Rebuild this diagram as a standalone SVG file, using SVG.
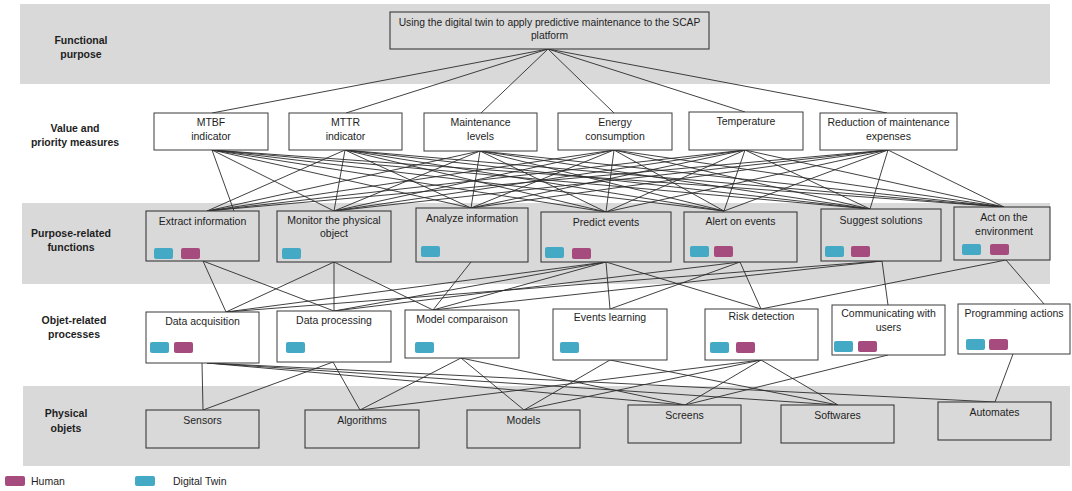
<svg xmlns="http://www.w3.org/2000/svg" width="1072" height="491" viewBox="0 0 1072 491">
<style>
.band{fill:#d9d9d9}
.box{fill:#ffffff;stroke:#3a3a3a;stroke-width:1}
.gbox{fill:#d9d9d9;stroke:#3a3a3a;stroke-width:1.1}
.t{font-family:"Liberation Sans",Arial,sans-serif;font-size:10.5px;fill:#1e1e1e;text-anchor:middle}
.lbl{font-family:"Liberation Sans",Arial,sans-serif;font-size:10.5px;font-weight:bold;fill:#1e1e1e;text-anchor:middle}
.leg{font-family:"Liberation Sans",Arial,sans-serif;font-size:10.5px;fill:#1e1e1e}
.dt{fill:#44a9c4}
.hu{fill:#a64b7d}
#connectors line{stroke:#2b2b2b;stroke-width:0.9}
</style>
<defs>
<rect id="sw" width="19" height="11" rx="2"/>
</defs>

<!-- bands -->
<rect class="band" x="20" y="4" width="1030" height="80"/>
<rect class="band" x="22" y="203" width="1028" height="81"/>
<rect class="band" x="23" y="386" width="1047" height="80"/>

<!-- level labels -->
<g id="levels">
<text class="lbl" x="81" y="44">Functional</text>
<text class="lbl" x="81" y="58">purpose</text>
<text class="lbl" x="75" y="132">Value and</text>
<text class="lbl" x="75" y="146">priority measures</text>
<text class="lbl" x="71" y="237">Purpose-related</text>
<text class="lbl" x="71" y="251">functions</text>
<text class="lbl" x="74" y="324">Objet-related</text>
<text class="lbl" x="74" y="338">processes</text>
<text class="lbl" x="66" y="417">Physical</text>
<text class="lbl" x="66" y="432">objets</text>
</g>

<g id="connectors">
<!-- top to values -->
<line x1="548" y1="49" x2="212" y2="113"/>
<line x1="548" y1="49" x2="346" y2="113"/>
<line x1="548" y1="49" x2="481" y2="113"/>
<line x1="548" y1="49" x2="614" y2="113"/>
<line x1="548" y1="49" x2="745" y2="112"/>
<line x1="548" y1="49" x2="887" y2="113"/>
<!-- values to functions -->
<line x1="212" y1="150" x2="234" y2="211"/>
<line x1="212" y1="150" x2="334" y2="211"/>
<line x1="212" y1="150" x2="471" y2="208"/>
<line x1="212" y1="150" x2="606" y2="212"/>
<line x1="212" y1="150" x2="724" y2="211"/>
<line x1="212" y1="150" x2="870" y2="209"/>
<line x1="212" y1="150" x2="1004" y2="207"/>
<line x1="345" y1="150" x2="207" y2="211"/>
<line x1="345" y1="150" x2="334" y2="211"/>
<line x1="345" y1="150" x2="471" y2="208"/>
<line x1="345" y1="150" x2="606" y2="212"/>
<line x1="345" y1="150" x2="724" y2="211"/>
<line x1="345" y1="150" x2="870" y2="209"/>
<line x1="345" y1="150" x2="1004" y2="207"/>
<line x1="480" y1="151" x2="207" y2="211"/>
<line x1="480" y1="151" x2="334" y2="211"/>
<line x1="480" y1="151" x2="471" y2="208"/>
<line x1="480" y1="151" x2="606" y2="212"/>
<line x1="480" y1="151" x2="724" y2="211"/>
<line x1="480" y1="151" x2="870" y2="209"/>
<line x1="480" y1="151" x2="1004" y2="207"/>
<line x1="614" y1="150" x2="207" y2="211"/>
<line x1="614" y1="150" x2="334" y2="211"/>
<line x1="614" y1="150" x2="471" y2="208"/>
<line x1="614" y1="150" x2="606" y2="212"/>
<line x1="614" y1="150" x2="724" y2="211"/>
<line x1="614" y1="150" x2="870" y2="209"/>
<line x1="614" y1="150" x2="1004" y2="207"/>
<line x1="745" y1="150" x2="207" y2="211"/>
<line x1="745" y1="150" x2="334" y2="211"/>
<line x1="745" y1="150" x2="471" y2="208"/>
<line x1="745" y1="150" x2="606" y2="212"/>
<line x1="745" y1="150" x2="724" y2="211"/>
<line x1="745" y1="150" x2="870" y2="209"/>
<line x1="745" y1="150" x2="1004" y2="207"/>
<line x1="888" y1="150" x2="207" y2="211"/>
<line x1="888" y1="150" x2="334" y2="211"/>
<line x1="888" y1="150" x2="471" y2="208"/>
<line x1="888" y1="150" x2="606" y2="212"/>
<line x1="888" y1="150" x2="724" y2="211"/>
<line x1="888" y1="150" x2="870" y2="209"/>
<line x1="888" y1="150" x2="1004" y2="207"/>
<!-- functions to processes -->
<line x1="203" y1="261" x2="226" y2="312"/>
<line x1="203" y1="261" x2="334" y2="311"/>
<line x1="334" y1="262" x2="226" y2="312"/>
<line x1="334" y1="262" x2="334" y2="311"/>
<line x1="334" y1="262" x2="433" y2="310"/>
<line x1="471" y1="262" x2="433" y2="310"/>
<line x1="606" y1="262" x2="226" y2="312"/>
<line x1="606" y1="262" x2="334" y2="311"/>
<line x1="606" y1="262" x2="433" y2="310"/>
<line x1="606" y1="262" x2="610" y2="309"/>
<line x1="606" y1="262" x2="761" y2="309"/>
<line x1="740" y1="262" x2="334" y2="311"/>
<line x1="740" y1="262" x2="610" y2="309"/>
<line x1="740" y1="262" x2="761" y2="309"/>
<line x1="882" y1="261" x2="226" y2="312"/>
<line x1="882" y1="261" x2="433" y2="310"/>
<line x1="882" y1="261" x2="888" y2="305"/>
<line x1="1006" y1="260" x2="761" y2="309"/>
<line x1="1006" y1="260" x2="1044" y2="304"/>
<!-- processes to physical objects -->
<line x1="202" y1="363" x2="203" y2="410"/>
<line x1="207" y1="363" x2="685" y2="405"/>
<line x1="207" y1="363" x2="838" y2="405"/>
<line x1="207" y1="363" x2="995" y2="402"/>
<line x1="333" y1="362" x2="203" y2="410"/>
<line x1="333" y1="362" x2="360" y2="410"/>
<line x1="461" y1="358" x2="360" y2="410"/>
<line x1="461" y1="358" x2="524" y2="410"/>
<line x1="461" y1="358" x2="685" y2="405"/>
<line x1="610" y1="360" x2="524" y2="410"/>
<line x1="610" y1="360" x2="838" y2="405"/>
<line x1="761" y1="360" x2="360" y2="410"/>
<line x1="761" y1="360" x2="524" y2="410"/>
<line x1="761" y1="360" x2="685" y2="405"/>
<line x1="761" y1="360" x2="838" y2="405"/>
<line x1="888" y1="355" x2="685" y2="405"/>
<line x1="1013" y1="354" x2="995" y2="402"/>
</g>

<!-- functional purpose -->
<g id="n-purpose">
<rect class="gbox" x="390" y="12" width="319" height="37"/>
<text class="t" x="549.5" y="26" style="font-size:10.3px">Using the digital twin to apply predictive maintenance to the SCAP</text>
<text class="t" x="549.5" y="39" style="font-size:10.3px">platform</text>
</g>

<!-- value and priority measures -->
<g id="n-mtbf"><rect class="box" x="154" y="113" width="114" height="37"/><text class="t" x="211" y="126">MTBF</text><text class="t" x="211" y="140">indicator</text></g>
<g id="n-mttr"><rect class="box" x="289" y="113" width="113" height="37"/><text class="t" x="345.5" y="126">MTTR</text><text class="t" x="345.5" y="140">indicator</text></g>
<g id="n-maint"><rect class="box" x="424" y="113" width="113" height="38"/><text class="t" x="480.5" y="126">Maintenance</text><text class="t" x="480.5" y="140">levels</text></g>
<g id="n-energy"><rect class="box" x="558" y="113" width="114" height="37"/><text class="t" x="615" y="126">Energy</text><text class="t" x="615" y="140">consumption</text></g>
<g id="n-temp"><rect class="box" x="689" y="112" width="114" height="38"/><text class="t" x="746" y="125">Temperature</text></g>
<g id="n-reduction"><rect class="box" x="820" y="113" width="137" height="37"/><text class="t" x="888.5" y="126">Reduction of maintenance</text><text class="t" x="888.5" y="140">expenses</text></g>

<!-- purpose-related functions -->
<g id="n-extract"><rect class="gbox" x="146" y="211" width="113" height="50"/><text class="t" x="202.5" y="225">Extract information</text><use href="#sw" class="dt" x="154" y="248"/><use href="#sw" class="hu" x="181" y="248"/></g>
<g id="n-monitor"><rect class="gbox" x="277" y="211" width="114" height="51"/><text class="t" x="334" y="224">Monitor the physical</text><text class="t" x="334" y="237">object</text><use href="#sw" class="dt" x="282" y="248"/></g>
<g id="n-analyze"><rect class="gbox" x="416" y="208" width="112" height="54"/><text class="t" x="472" y="222">Analyze information</text><use href="#sw" class="dt" x="421" y="246"/></g>
<g id="n-predict"><rect class="gbox" x="541" y="212" width="130" height="50"/><text class="t" x="606" y="226">Predict events</text><use href="#sw" class="dt" x="545" y="247"/><use href="#sw" class="hu" x="572" y="248"/></g>
<g id="n-alert"><rect class="gbox" x="684" y="212" width="113" height="50"/><text class="t" x="740.5" y="225">Alert on events</text><use href="#sw" class="dt" x="690" y="246"/><use href="#sw" class="hu" x="714" y="246"/></g>
<g id="n-suggest"><rect class="gbox" x="821" y="209" width="120" height="52"/><text class="t" x="881" y="224">Suggest  solutions</text><use href="#sw" class="dt" x="825" y="246"/><use href="#sw" class="hu" x="851" y="246"/></g>
<g id="n-act"><rect class="gbox" x="954" y="207" width="96" height="53"/><text class="t" x="1004" y="221">Act on the</text><text class="t" x="1004" y="235">environment</text><use href="#sw" class="dt" x="962" y="244"/><use href="#sw" class="hu" x="990" y="244"/></g>

<!-- object-related processes -->
<g id="n-acq"><rect class="box" x="146" y="312" width="113" height="51"/><text class="t" x="202.5" y="325">Data acquisition</text><use href="#sw" class="dt" x="150" y="342"/><use href="#sw" class="hu" x="174" y="342"/></g>
<g id="n-proc"><rect class="box" x="277" y="311" width="114" height="51"/><text class="t" x="334" y="324">Data processing</text><use href="#sw" class="dt" x="286" y="342"/></g>
<g id="n-model"><rect class="box" x="405" y="310" width="114" height="48"/><text class="t" x="462" y="323">Model comparaison</text><use href="#sw" class="dt" x="415" y="342"/></g>
<g id="n-events"><rect class="box" x="553" y="309" width="114" height="51"/><text class="t" x="610" y="321">Events learning</text><use href="#sw" class="dt" x="560" y="342"/></g>
<g id="n-risk"><rect class="box" x="705" y="309" width="113" height="51"/><text class="t" x="761.5" y="320">Risk detection</text><use href="#sw" class="dt" x="710" y="342"/><use href="#sw" class="hu" x="736" y="342"/></g>
<g id="n-comm"><rect class="box" x="832" y="305" width="113" height="50"/><text class="t" x="888.5" y="317">Communicating with</text><text class="t" x="888.5" y="331">users</text><use href="#sw" class="dt" x="834" y="341"/><use href="#sw" class="hu" x="858" y="341"/></g>
<g id="n-prog"><rect class="box" x="958" y="304" width="112" height="50"/><text class="t" x="1014" y="317">Programming actions</text><use href="#sw" class="dt" x="966" y="339"/><use href="#sw" class="hu" x="989" y="339"/></g>

<!-- physical objects -->
<g id="n-sensors"><rect class="gbox" x="146" y="410" width="113" height="38"/><text class="t" x="202.5" y="424">Sensors</text></g>
<g id="n-algo"><rect class="gbox" x="305" y="410" width="114" height="38"/><text class="t" x="362" y="424">Algorithms</text></g>
<g id="n-models"><rect class="gbox" x="467" y="410" width="113" height="38"/><text class="t" x="523.5" y="424">Models</text></g>
<g id="n-screens"><rect class="gbox" x="628" y="405" width="113" height="38"/><text class="t" x="684.5" y="419">Screens</text></g>
<g id="n-soft"><rect class="gbox" x="781" y="405" width="113" height="38"/><text class="t" x="837.5" y="419">Softwares</text></g>
<g id="n-auto"><rect class="gbox" x="938" y="402" width="113" height="38"/><text class="t" x="994.5" y="416">Automates</text></g>

<!-- legend -->
<g id="legend">
<rect class="hu" x="5" y="476" width="20" height="10" rx="2"/>
<text class="leg" x="31" y="485">Human</text>
<rect class="dt" x="135" y="476" width="20" height="10" rx="2"/>
<text class="leg" x="173" y="485">Digital Twin</text>
</g>
</svg>
